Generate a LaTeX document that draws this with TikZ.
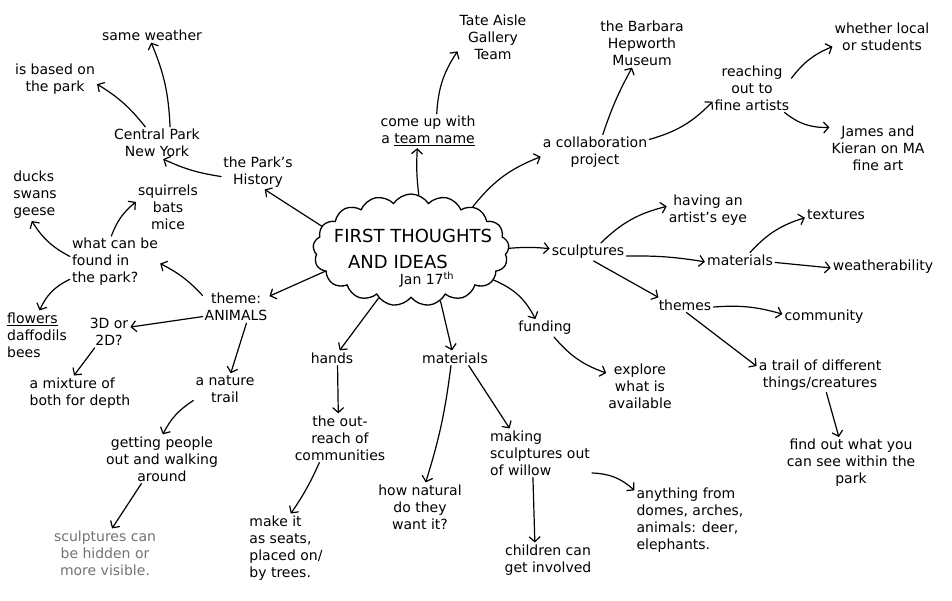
\documentclass[tikz,border=0pt]{standalone}
\usepackage{fontspec}
\setmainfont{DejaVu Sans}
\usetikzlibrary{arrows.meta,shapes.symbols}
\begin{document}
\begin{tikzpicture}[x=1pt,y=1pt,
  txt/.style={font=\fontsize{14}{17}\selectfont, align=center, inner sep=2pt, text=black},
  ltxt/.style={txt, align=left},
  arr/.style={line width=1.2pt, line cap=round, black,
    -{Straight Barb[length=5pt,width=11pt,line width=1.2pt]}},
  bigtxt/.style={font=\fontsize{18}{20}\selectfont, inner sep=0pt},
]
\useasboundingbox[fill=white] (0,0) rectangle (952,600);

% central cloud
\node (cloud) [cloud, draw, line width=1.3pt, cloud puffs=17, cloud puff arc=115,
  cloud ignores aspect, minimum width=196pt, minimum height=112pt, inner sep=0pt] at (411,350) {};
\node (first) [bigtxt] at (413,364) {FIRST THOUGHTS};
\node (andideas) [bigtxt] at (398,338) {AND IDEAS};
\node (jan) [txt] at (427,320) {Jan 17\textsuperscript{th}};

% left side
\node (sameweather) [txt] at (152,565) {same weather};
\node (isbased) [txt] at (55,521) {is based on\\the park};
\node (central) [txt] at (157,457) {Central Park\\New York};
\node (history) [txt] at (258,428) {the Park's\\History};
\node (ducks) [ltxt] at (35,405) {ducks\\swans\\geese};
\node (squirrels) [txt] at (168,393) {squirrels\\bats\\mice};
\node (whatcan) [ltxt] at (115,338) {what can be\\found in\\the park?};
\node (theme) [txt] at (236,293) {theme:\\ANIMALS};
\node (flowers) [ltxt] at (37,265) {\underline{flowers}\\daffodils\\bees};
\node (threeD) [txt] at (109,268) {3D or\\2D?};
\node (mixture) [ltxt] at (80,207) {a mixture of\\both for depth};
\node (naturetrail) [txt] at (225,211) {a nature\\trail};
\node (getting) [txt] at (162,141) {getting people\\out and walking\\around};
\node (hidden) [txt, text=black!55] at (105,47) {sculptures can\\be hidden or\\more visible.};

% bottom
\node (hands) [txt] at (332,242) {hands};
\node (outreach) [txt] at (340,162) {the out-\\reach of\\communities};
\node (makeit) [ltxt] at (286,52) {make it\\as seats,\\placed on/\\by trees.};
\node (mat1) [txt] at (455,242) {materials};
\node (natural) [txt] at (420,93) {how natural\\do they\\want it?};
\node (making) [ltxt] at (540,147) {making\\sculptures out\\of willow};
\node (children) [txt] at (548,40) {children can\\get involved};
\node (anything) [ltxt] at (690,80) {anything from\\domes, arches,\\animals: deer,\\elephants.};
\node (finding) [txt] at (545,272) {funding};
\node (explore) [txt] at (640,214) {explore\\what is\\available};

% top
\node (teamname) [txt] at (428,469) {come up with\\a \underline{team name}};
\node (tate) [txt] at (493,563) {Tate Aisle\\Gallery\\Team};
\node (collab) [txt] at (595,448) {a collaboration\\project};
\node (barbara) [txt] at (642,557) {the Barbara\\Hepworth\\Museum};
\node (reaching) [txt] at (752,512) {reaching\\out to\\fine artists};
\node (whether) [txt] at (882,563) {whether local\\or students};
\node (james) [txt] at (878,452) {James and\\Kieran on MA\\fine art};

% right
\node (sculpt) [txt] at (588,348) {sculptures};
\node (having) [txt] at (708,390) {having an\\artist's eye};
\node (mat2) [txt] at (740,340) {materials};
\node (textures) [txt] at (836,385) {textures};
\node (weather) [txt] at (883,333) {weatherability};
\node (themes) [txt] at (685,295) {themes};
\node (community) [txt] at (824,283) {community};
\node (trail) [txt] at (820,225) {a trail of different\\things/creatures};
\node (findout) [txt] at (851,137) {find out what you\\can see within the\\park};

% connectors
\draw[arr] (cloud.194) -- (theme.18);
\draw[arr] (cloud.165) -- (history.291);
\draw[arr] (cloud.82) to[bend left=5] (teamname.238);
\draw[arr] (teamname.63) to[bend left=15] (tate.202);
\draw[arr] (cloud.35) to[bend left=15] (collab.185);
\draw[arr] (collab.66) to[bend left=5] (barbara.248);
\draw[arr] (collab.13) to[bend right=15] (reaching.199);
\draw[arr] (reaching.14) to[bend left=15] (whether.191);
\draw[arr] (reaching.323) to[bend right=20] (james.157);
\draw[arr] (cloud.1) to[bend left=5] (sculpt.175);
\draw[arr] (sculpt.35) to[bend left=15] (having.175);
\draw[arr] (sculpt.354) to[bend left=5] (mat2.183);
\draw[arr] (sculpt.302) -- (themes.164);
\draw[arr] (mat2.37) to[bend left=15] (textures.185);
\draw[arr] (mat2.356) -- (weather.181);
\draw[arr] (themes.356) to[bend left=10] (community.176);
\draw[arr] (themes.282) -- (trail.172);
\draw[arr] (trail.290) -- (findout.115);
\draw[arr] (cloud.340) to[bend left=20] (finding.137);
\draw[arr] (finding.315) to[bend right=15] (explore.159);
\draw[arr] (cloud.236) -- (hands.45);
\draw[arr] (cloud.300) -- (mat1.111);
\draw[arr] (hands.306) -- (outreach.94);
\draw[arr] (outreach.230) to[bend left=5] (makeit.82);
\draw[arr] (mat1.242) to[bend left=5] (natural.77);
\draw[arr] (mat1.331) -- (making.141);
\draw[arr] (making.254) -- (children.127);
\draw[arr] (making.339) to[bend left=20] (anything.152);
\draw[arr] (theme.161) to[bend right=10] (whatcan.358);
\draw[arr] (theme.196) -- (threeD.13);
\draw[arr] (theme.303) -- (naturetrail.70);
\draw[arr] (whatcan.173) to[bend left=15] (ducks.263);
\draw[arr] (whatcan.98) to[bend left=15] (squirrels.171);
\draw[arr] (whatcan.201) to[bend right=20] (flowers.84);
\draw[arr] (threeD.228) -- (mixture.109);
\draw[arr] (naturetrail.200) to[bend right=15] (getting.88);
\draw[arr] (getting.230) -- (hidden.74);
\draw[arr] (history.187) to[bend left=8] (central.291);
\draw[arr] (central.126) to[bend right=10] (isbased.353);
\draw[arr] (central.51) to[bend right=10] (sameweather.264);
\end{tikzpicture}
\end{document}
